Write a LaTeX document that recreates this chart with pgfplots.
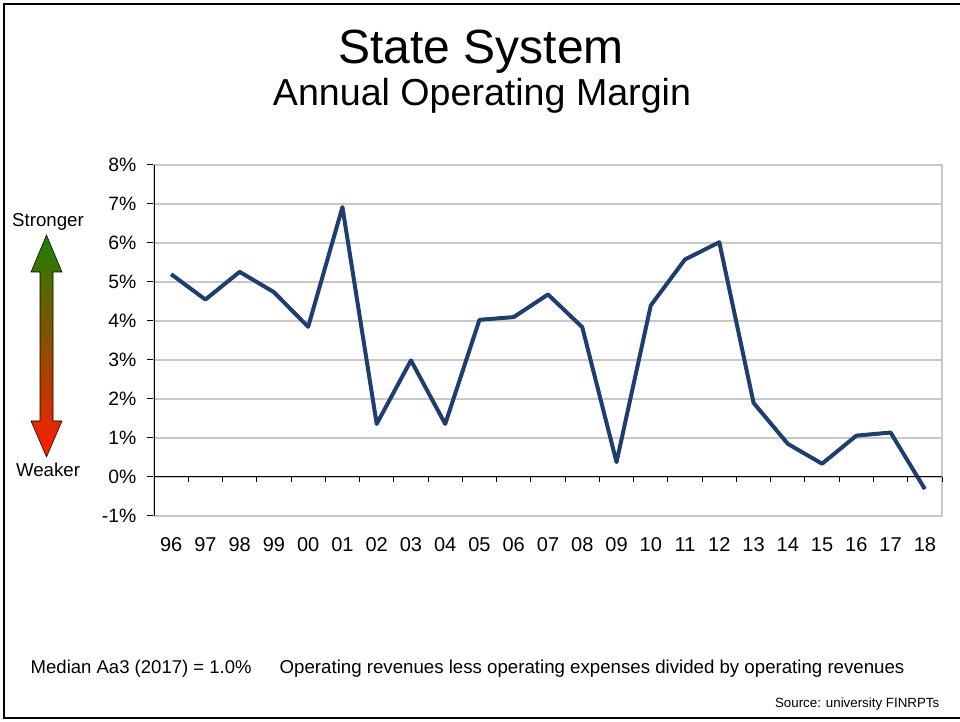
\documentclass[border=0pt]{standalone}
\usepackage{fontspec}
\setmainfont{Liberation Sans}
\usepackage{pgfplots}
\pgfplotsset{compat=1.18}

\definecolor{lineblue}{RGB}{31,61,110}
\definecolor{gridgray}{RGB}{200,200,200}
\definecolor{upgreen}{RGB}{30,128,0}
\definecolor{midorange}{RGB}{185,95,0}
\definecolor{downred}{RGB}{255,28,0}

\begin{document}
\begin{tikzpicture}[x=0.75pt,y=0.75pt]
  % page = 960 x 721 px, 1px = 0.75pt
  \path[use as bounding box] (0,0) rectangle (960,721);
  \draw[line width=1.5pt] (960,717) -- (4,717) -- (4,3) -- (960,3);

  \node[anchor=base] at (481,657) {\fontsize{36}{42}\selectfont State System};
  \node[anchor=base] at (482,615) {\fontsize{28.2}{33}\selectfont Annual Operating Margin};

  % stronger / weaker arrow
  \node[anchor=base] at (48,494) {\fontsize{14}{16}\selectfont Stronger};
  \node[anchor=base] at (48,244) {\fontsize{14}{16}\selectfont Weaker};
  \draw[black, line width=0.4pt, top color=upgreen, middle color=midorange, bottom color=downred]
    (46.5,486) -- (62,449) -- (53,449) -- (53,300) -- (62,300) -- (46.5,264)
    -- (31,300) -- (40,300) -- (40,449) -- (31,449) -- cycle;

  \begin{axis}[
    at={(115.5pt,153.75pt)}, anchor=south west,
    width=591pt, height=263.25pt, scale only axis,
    xmin=-0.5, xmax=22.5,
    ymin=-1, ymax=8,
    xtick={0,...,22},
    xticklabels={96,97,98,99,00,01,02,03,04,05,06,07,08,09,10,11,12,13,14,15,16,17,18},
    ytick={-1,0,...,8},
    yticklabels={-1\%,0\%,1\%,2\%,3\%,4\%,5\%,6\%,7\%,8\%},
    ytick pos=left,
    x tick style={draw=none},
    y tick style={black, line width=0.75pt},
    tick align=outside,
    major tick length=5.25pt,
    ymajorgrids,
    grid style={gridgray, line width=1pt},
    axis line style={gridgray, line width=1pt},
    xticklabel style={font=\fontsize{15}{18}\selectfont, yshift=-7.5pt},
    yticklabel style={font=\fontsize{14.5}{17}\selectfont, xshift=-4.5pt},
    clip=false,
  ]
  \addplot[lineblue, line width=3pt, line join=round] coordinates {
    (0,5.20) (1,4.55) (2,5.26) (3,4.74) (4,3.85) (5,6.92) (6,1.36)
    (7,2.99) (8,1.36) (9,4.03) (10,4.10) (11,4.68) (12,3.84) (13,0.38)
    (14,4.40) (15,5.58) (16,6.02) (17,1.90) (18,0.85) (19,0.34)
    (20,1.06) (21,1.14) (22,-0.31)
  };
  % black left axis and zero line with category ticks
  \draw[black, line width=0.75pt] (rel axis cs:0,0) -- (rel axis cs:0,1);
  \draw[black, line width=0.75pt] (axis cs:-0.5,0) -- (axis cs:22.5,0);
  \pgfplotsinvokeforeach{0,...,22}{
    \draw[black, line width=0.75pt] (axis cs:#1+0.5,0) -- ([yshift=-4pt]axis cs:#1+0.5,0);
  }
  \end{axis}

  \node[anchor=base west] at (26,47) {\fontsize{13.9}{16}\selectfont Median Aa3 (2017) = 1.0\%};
  \node[anchor=base west] at (275,47) {\fontsize{14}{16}\selectfont Operating revenues less operating expenses divided by operating revenues};
  \node[anchor=base east] at (944,14) {\fontsize{10}{12}\selectfont Source: university FINRPTs};
\end{tikzpicture}
\end{document}
